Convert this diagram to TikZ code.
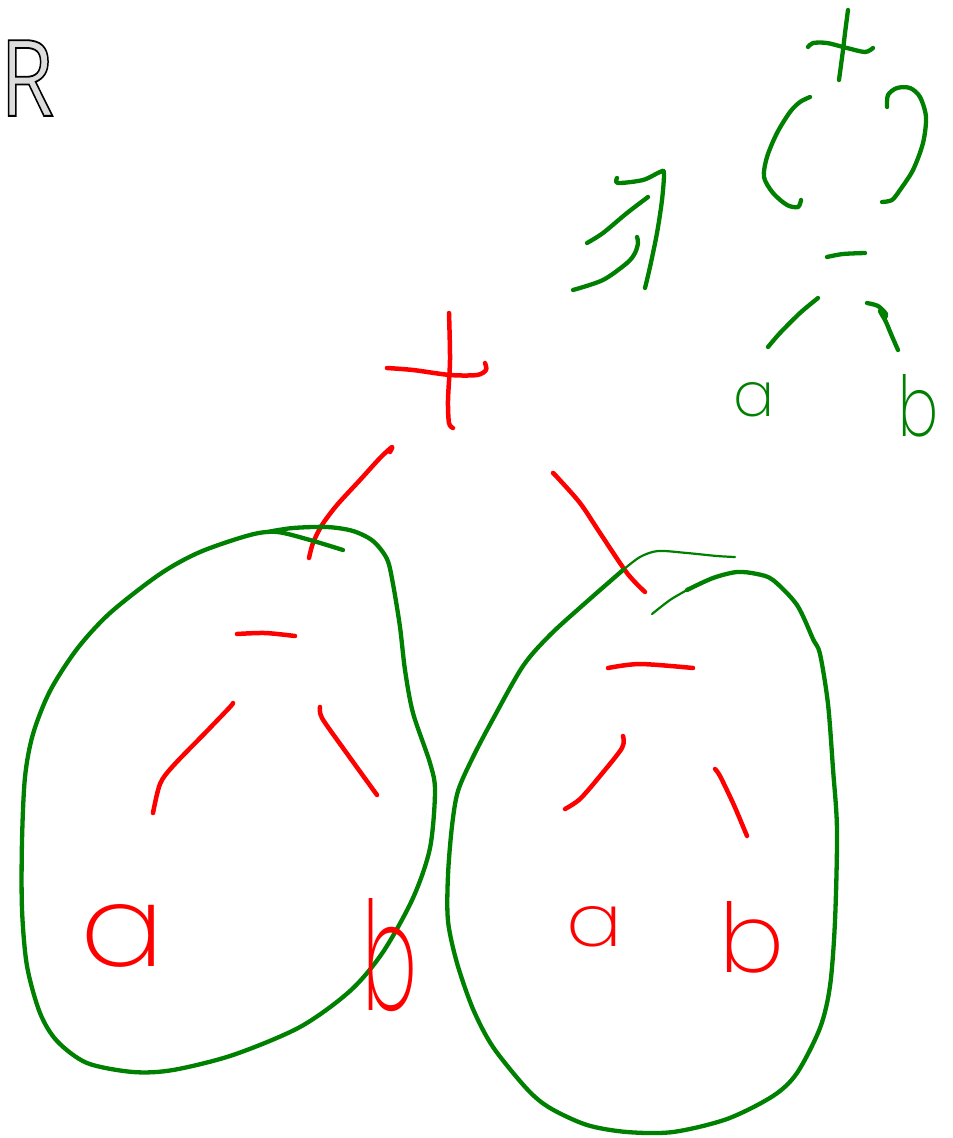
\documentclass[tikz,border=0pt]{standalone}
\usepackage{fontspec}
\usepackage{graphicx}
\newfontfamily\hand{Poppins}[UprightFont=* ExtraLight]
\newfontfamily\rfont{Open Sans}
\definecolor{pgreen}{RGB}{0,128,0}
\definecolor{rfill}{RGB}{220,220,220}
\tikzset{
 redpen/.style={draw=red, line width=4.5pt, line cap=round, line join=round},
 greenpen/.style={draw=pgreen, line width=4.3pt, line cap=round, line join=round},
 thinpen/.style={draw=pgreen, line width=2.2pt, line cap=round, line join=round},
 letter/.style={inner sep=0pt, outer sep=0pt, anchor=south west},
}
\begin{document}
\begin{tikzpicture}[x=1pt,y=-1pt]
\fill[white] (0,0) rectangle (953,1138);
\path[use as bounding box] (0,0) rectangle (953,1138);

% R
\node[inner sep=0pt, anchor=north west, text=rfill] (R) at (0,40)
 {\scalebox{0.82}[1]{\rfont\fontsize{106pt}{106pt}\selectfont\special{pdf:literal direct 0 G 1.8 w 2 Tr}R\special{pdf:literal direct 0 Tr}}};

% ---------- top-right green tree ----------
\draw[greenpen] plot[smooth] coordinates {(848,10) (845,33) (843,50) (839,80)};
\draw[greenpen] plot[smooth] coordinates {(808,47) (813,43) (827,43) (847,48) (865,52) (873,48)};
\draw[greenpen] plot[smooth] coordinates {(810,97) (800,102) (790,112) (777,133) (767,157) (764,177) (773,193) (787,205) (798,207) (801,200)};
\draw[greenpen] plot[smooth] coordinates {(887,107) (888,95) (897,88) (910,88) (920,97) (926,117) (923,143) (913,170) (900,190) (892,200) (882,202)};
\draw[greenpen] plot[smooth] coordinates {(827,257) (843,254) (865,253)};
\draw[greenpen] plot[smooth] coordinates {(818,298) (800,313) (780,333) (768,347)};
\draw[greenpen] plot[smooth] coordinates {(867,303) (878,306) (886,314) (884,318) (880,311) (886,322) (891,334) (898,350)};
\node[letter, text=pgreen] (ga) at (733,417) {\resizebox{41pt}{34pt}{\hand a}};
\node[letter, text=pgreen] (gb) at (898,437) {\resizebox{40pt}{62pt}{\hand b}};

% arrow
\draw[greenpen] plot[smooth] coordinates {(573,290) (603,280) (627,263) (635,253) (638,243) (637,237)};
\draw[greenpen] plot[smooth] coordinates {(587,243) (603,233) (627,213) (648,197)};
\draw[greenpen] plot[smooth] coordinates {(617,178) (618,183) (643,180) (660,172) (664,173) (662,200) (657,233) (650,267) (645,288)};

% ---------- red top + ----------
\draw[redpen] plot[smooth] coordinates {(449,313) (450,360) (448,400) (449,423) (453,428)};
\draw[redpen] plot[smooth] coordinates {(387,368) (413,370) (450,375) (477,375) (486,370) (485,363)};
\draw[redpen] plot[smooth] coordinates {(390,452) (392,447) (380,458) (360,480) (337,505) (322,525) (313,543) (309,558)};
\draw[redpen] plot[smooth] coordinates {(553,473) (557,477) (580,503) (600,533) (627,573) (645,592)};

% ---------- left blob ----------
\draw[greenpen] plot[smooth] coordinates {(343,550) (310,540) (277,532) (250,535) (200,552) (160,574) (110,613) (77,649) (50,691) (33,734) (25,777) (22,841) (22,909) (27,966) (40,1013) (57,1041) (87,1063) (133,1072) (173,1070) (233,1055) (300,1027) (350,991) (383,952) (413,898) (430,848) (435,791) (430,763) (413,713) (405,670) (400,627) (393,584) (387,559) (373,541) (353,531) (327,527) (293,528) (267,532)};
\draw[redpen] plot[smooth] coordinates {(237,634) (265,633) (295,636)};
\draw[redpen] plot[smooth] coordinates {(233,703) (230,707) (207,731) (173,766) (160,784) (153,813)};
\draw[redpen] plot[smooth] coordinates {(320,707) (322,718) (343,748) (377,795)};
\node[letter, text=red] (la) at (80,967) {\resizebox{84pt}{62pt}{\hand a}};
\node[letter, text=red] (lb) at (362,1012) {\resizebox{55pt}{112pt}{\hand b}};

% ---------- right blob ----------
\draw[thinpen] plot[smooth] coordinates {(735,557) (717,556) (687,553) (658,551) (640,557) (623,570)};
\draw[greenpen] plot[smooth] coordinates {(623,570) (583,605) (550,635) (523,666) (493,719) (473,757) (458,791) (452,826) (448,875) (448,921) (457,963) (473,1009) (493,1047) (527,1089) (550,1108) (587,1125) (627,1132) (673,1132) (727,1119) (773,1096) (797,1073) (820,1028) (830,986) (835,921) (837,830) (833,769) (828,704) (820,654) (813,639) (797,605) (773,580) (757,574) (737,572) (713,578) (687,590)};
\draw[thinpen] plot[smooth] coordinates {(687,590) (670,600) (652,614)};
\draw[redpen] plot[smooth] coordinates {(608,668) (640,664) (693,668)};
\draw[redpen] plot[smooth] coordinates {(623,736) (622,748) (600,776) (580,799) (565,809)};
\draw[redpen] plot[smooth] coordinates {(715,769) (720,776) (733,803) (742,824) (747,836)};
\node[letter, text=red] (ra) at (566,947) {\resizebox{56pt}{40pt}{\hand a}};
\node[letter, text=red] (rb) at (719,973) {\resizebox{65pt}{71pt}{\hand b}};
\end{tikzpicture}
\end{document}
